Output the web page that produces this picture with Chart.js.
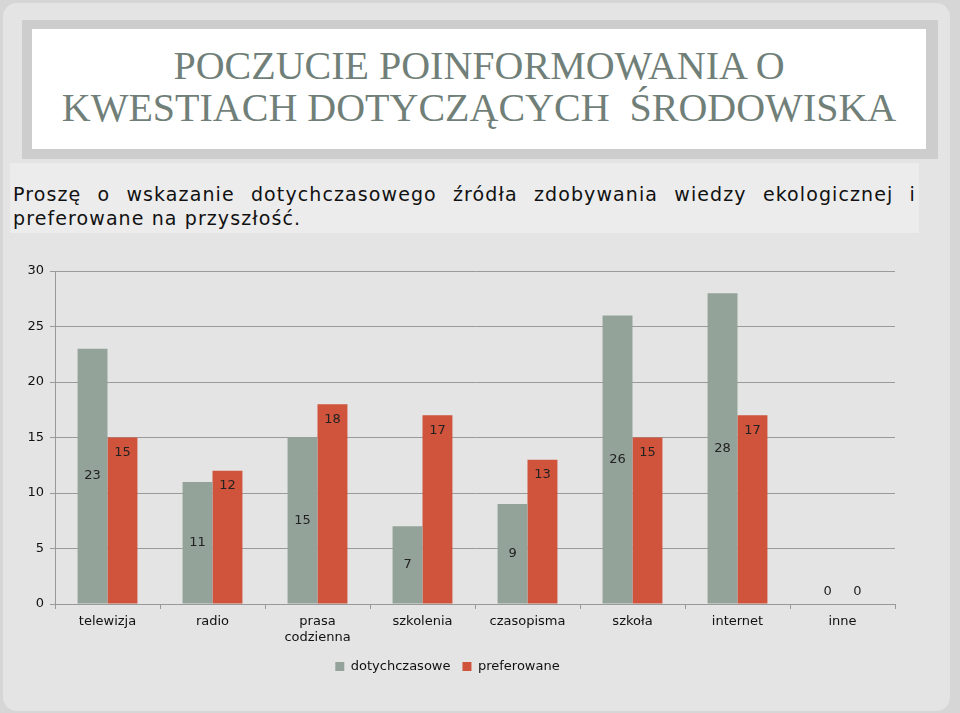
<!DOCTYPE html>
<html>
<head>
<meta charset="utf-8">
<script src="https://cdn.jsdelivr.net/npm/chart.js@4"></script>
<style>
  html, body { margin: 0; padding: 0; }
  body { width: 960px; height: 713px; background: #d6d6d6; position: relative; overflow: hidden; font-family: "DejaVu Sans", sans-serif; }
  .card { position: absolute; left: 3px; top: 3px; width: 947px; height: 708px; background: #e4e4e4; border-radius: 14px; }
  .titleFrame { position: absolute; left: 22px; top: 20px; width: 916px; height: 139px; background: #cdcdcd; }
  .titleBox { position: absolute; left: 32px; top: 29px; width: 894px; height: 116px; padding-bottom: 4px; background: #fff;
    color: #717f79; font-family: "Liberation Serif", serif; font-size: 40px; line-height: 42px; text-align: center;
    display: flex; align-items: center; justify-content: center; }
  .sub { position: absolute; left: 10px; top: 163px; width: 909px; height: 70px; background: #ececec; }
  .sub div { margin: 0 3px; font-size: 19px; line-height: 24px; color: #111; letter-spacing: 1.1px; }
  .sub .l1 { margin-top: 19px; text-align: justify; text-align-last: justify; }
  .chartWrap { position: absolute; left: 0; top: 250px; width: 960px; height: 463px; }
</style>
</head>
<body>
<div class="card"></div>
<div class="titleFrame"></div>
<div class="titleBox">POCZUCIE POINFORMOWANIA O<br>KWESTIACH DOTYCZĄCYCH&nbsp; ŚRODOWISKA</div>
<div class="sub">
  <div class="l1">Proszę o wskazanie dotychczasowego źródła zdobywania wiedzy ekologicznej i</div>
  <div>preferowane na przyszłość.</div>
</div>
<div class="chartWrap"><canvas id="chart" width="960" height="463"></canvas></div>
<script>
const categories = ['telewizja', 'radio', ['prasa', 'codzienna'], 'szkolenia', 'czasopisma', 'szkoła', 'internet', 'inne'];
const dotychczasowe = [23, 11, 15, 7, 9, 26, 28, 0];
const preferowane = [15, 12, 18, 17, 13, 15, 17, 0];
const yTicks = [0, 5, 10, 15, 20, 25, 30];

const FONT = '"DejaVu Sans", sans-serif';

// etykiety wartości: szare w środku słupka, czerwone przy końcu
const barLabels = {
  id: 'barLabels',
  afterDatasetsDraw(chart) {
    const ctx = chart.ctx;
    ctx.save();
    ctx.font = '13px ' + FONT;
    ctx.fillStyle = '#222';
    ctx.textAlign = 'center';
    ctx.textBaseline = 'middle';
    chart.data.datasets.forEach((ds, i) => {
      chart.getDatasetMeta(i).data.forEach((bar, j) => {
        const v = ds.data[j];
        let y;
        if (v === 0) y = bar.base - 12;
        else if (i === 0) y = (bar.y + bar.base) / 2;
        else y = bar.y + 15;
        ctx.fillText(String(v), bar.x, y);
      });
    });
    ctx.restore();
  }
};

const ctx = document.getElementById('chart').getContext('2d');
new Chart(ctx, {
  type: 'bar',
  data: {
    labels: categories,
    datasets: [{
      label: 'dotychczasowe',
      data: dotychczasowe,
      backgroundColor: '#94a39a',
      borderWidth: 0
    }, {
      label: 'preferowane',
      data: preferowane,
      backgroundColor: '#d0533c',
      borderWidth: 0
    }]
  },
  options: {
    responsive: false,
    animation: false,
    devicePixelRatio: 1,
    layout: { padding: { left: 0, right: 65, top: 21, bottom: 30 } },
    datasets: { bar: { barPercentage: 1, categoryPercentage: 0.57 } },
    scales: {
      x: {
        grid: { display: true, drawOnChartArea: false, offset: true, color: '#999', tickLength: 5 },
        border: { color: '#999' },
        ticks: { color: '#111', font: { family: FONT, size: 13 }, padding: 5, maxRotation: 0 },
        afterFit(scale) { scale.height = 44; }
      },
      y: {
        min: 0, max: 30,
        afterBuildTicks(scale) { scale.ticks = yTicks.map(v => ({ value: v })); },
        grid: { color: '#9a9a9a', tickLength: 5 },
        border: { color: '#999' },
        ticks: { color: '#111', font: { family: FONT, size: 13 }, padding: 6 },
        afterFit(scale) { scale.width = 55; }
      }
    },
    plugins: {
      legend: {
        position: 'bottom',
        labels: { color: '#111', font: { family: FONT, size: 13 }, boxWidth: 9, boxHeight: 9, padding: 12 }
      },
      tooltip: { enabled: false }
    }
  },
  plugins: [barLabels]
});
</script>
</body>
</html>
